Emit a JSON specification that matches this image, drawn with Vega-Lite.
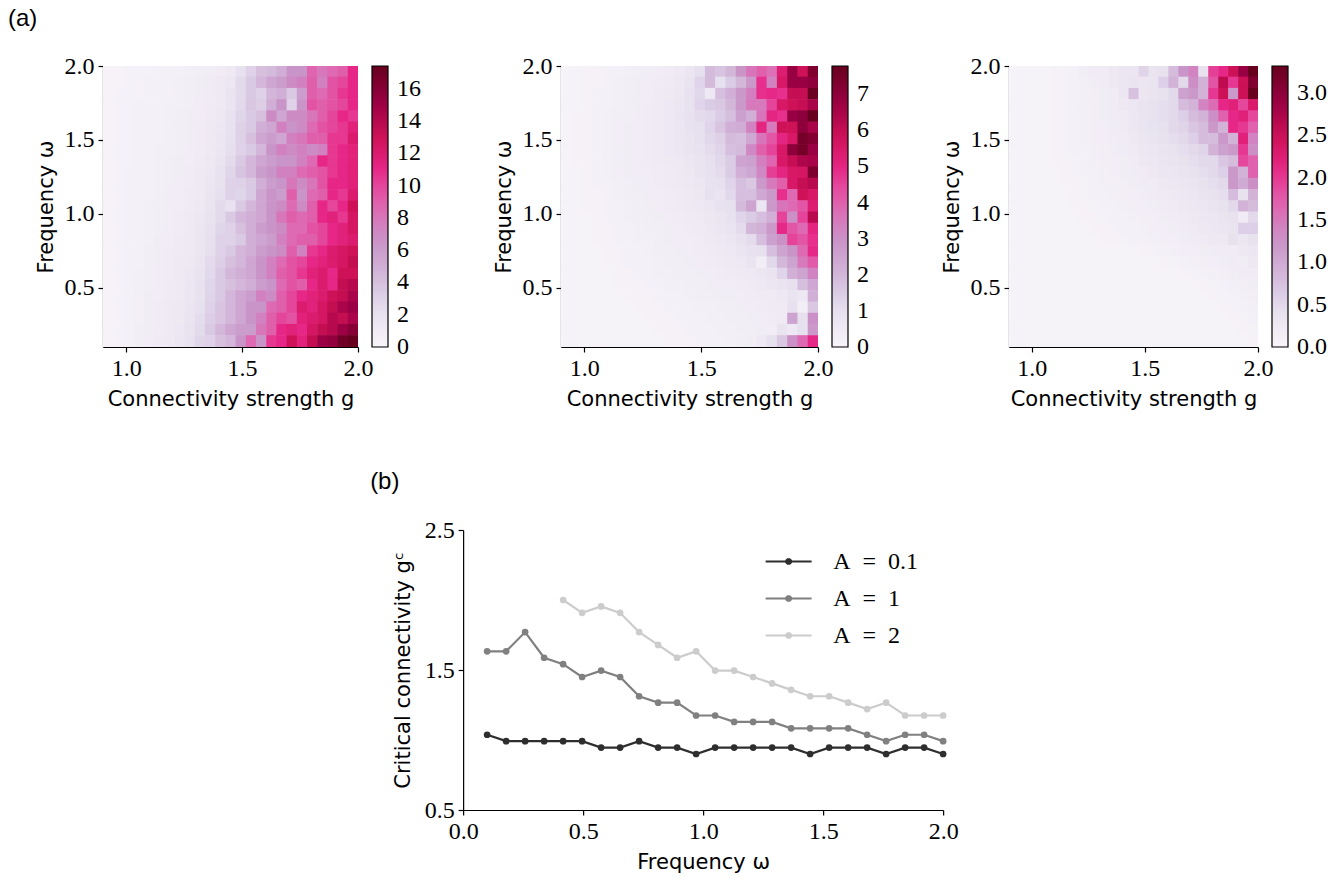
{
"$schema": "https://vega.github.io/schema/vega-lite/v6.json",
"background": "white",
"padding": {"left": 8, "top": 7, "right": 5, "bottom": 5},
"config": {
  "view": {"stroke": null},
  "axis": {"domainColor": "black", "domainWidth": 1.2, "tickColor": "black", "tickWidth": 1.2, "tickSize": 5, "grid": false, "labelFont": "Liberation Serif", "labelFontSize": 24, "labelColor": "black", "labelPadding": 4, "labelFlush": false, "titleFont": "DejaVu Sans", "titleFontSize": 21, "titleFontWeight": "normal", "titleColor": "black", "titlePadding": 8},
  "legend": {"labelFont": "Liberation Serif", "labelFontSize": 24, "labelColor": "black"},
  "title": {"font": "Liberation Sans", "fontSize": 24, "fontWeight": "normal", "color": "black", "anchor": "start", "frame": "bounds"}
},
"datasets": {
  "cols": [
    {"k":1,"g0":0.9,"g1":0.9465},{"k":2,"g0":0.944,"g1":0.9905},{"k":3,"g0":0.988,"g1":1.0345},{"k":4,"g0":1.032,"g1":1.0785},{"k":5,"g0":1.076,"g1":1.1225},
    {"k":6,"g0":1.12,"g1":1.1665},{"k":7,"g0":1.164,"g1":1.2105},{"k":8,"g0":1.208,"g1":1.2545},{"k":9,"g0":1.252,"g1":1.2985},{"k":10,"g0":1.296,"g1":1.3425},
    {"k":11,"g0":1.34,"g1":1.3865},{"k":12,"g0":1.384,"g1":1.4305},{"k":13,"g0":1.428,"g1":1.4745},{"k":14,"g0":1.472,"g1":1.5185},{"k":15,"g0":1.516,"g1":1.5625},
    {"k":16,"g0":1.56,"g1":1.6065},{"k":17,"g0":1.604,"g1":1.6505},{"k":18,"g0":1.648,"g1":1.6945},{"k":19,"g0":1.692,"g1":1.7385},{"k":20,"g0":1.736,"g1":1.7825},
    {"k":21,"g0":1.78,"g1":1.8265},{"k":22,"g0":1.824,"g1":1.8705},{"k":23,"g0":1.868,"g1":1.9145},{"k":24,"g0":1.912,"g1":1.9585},{"k":25,"g0":1.956,"g1":2.0025}
  ],
  "heat": [
    {"p":1,"w0":1.924,"w1":2.004,"v":[0.2,0.2,0.3,0.3,0.3,0.4,0.5,0.5,0.6,0.7,0.8,1.0,1.2,2.0,3.0,4.0,4.3,5.0,6.5,6.5,8.7,8.0,8.5,9.0,11.0]},
    {"p":1,"w0":1.848,"w1":1.928,"v":[0.2,0.2,0.3,0.3,0.4,0.4,0.5,0.6,0.7,0.8,1.0,1.2,1.5,2.5,3.5,4.5,5.5,6.0,7.0,7.5,9.0,7.5,9.5,10.0,11.0]},
    {"p":1,"w0":1.772,"w1":1.852,"v":[0.2,0.3,0.3,0.3,0.4,0.5,0.5,0.6,0.7,0.8,1.0,1.3,1.8,2.5,3.5,3.0,4.5,5.0,3.5,6.0,9.0,8.5,9.5,10.5,11.0]},
    {"p":1,"w0":1.696,"w1":1.776,"v":[0.2,0.3,0.3,0.4,0.4,0.5,0.6,0.6,0.7,0.9,1.0,1.3,1.7,2.6,3.6,3.2,5.0,6.5,3.0,6.5,9.5,9.0,9.5,10.0,11.0]},
    {"p":1,"w0":1.62,"w1":1.7,"v":[0.2,0.3,0.3,0.4,0.4,0.5,0.6,0.7,0.8,0.9,1.1,1.4,2.0,2.8,3.5,4.0,7.0,5.5,7.0,7.0,8.0,9.0,10.0,11.0,10.5]},
    {"p":1,"w0":1.544,"w1":1.624,"v":[0.2,0.3,0.3,0.4,0.5,0.5,0.6,0.7,0.8,1.0,1.2,1.5,2.0,3.0,3.5,5.0,5.5,7.5,6.5,7.0,8.5,9.5,10.0,10.5,11.5]},
    {"p":1,"w0":1.468,"w1":1.548,"v":[0.2,0.3,0.3,0.4,0.5,0.5,0.6,0.7,0.8,1.0,1.2,1.6,2.2,3.0,4.0,5.5,6.0,5.5,7.5,8.0,9.0,9.0,10.5,10.5,12.0]},
    {"p":1,"w0":1.392,"w1":1.472,"v":[0.2,0.3,0.3,0.4,0.5,0.6,0.6,0.7,0.9,1.0,1.3,1.6,2.3,3.0,3.5,4.5,6.5,7.5,7.0,7.5,7.0,7.5,10.5,11.0,11.5]},
    {"p":1,"w0":1.316,"w1":1.396,"v":[0.2,0.3,0.3,0.4,0.5,0.6,0.7,0.8,0.9,1.1,1.4,1.8,2.5,3.5,4.5,5.5,6.0,6.5,6.5,7.5,8.5,11.0,10.5,11.0,11.5]},
    {"p":1,"w0":1.24,"w1":1.32,"v":[0.2,0.3,0.4,0.4,0.5,0.6,0.7,0.8,1.0,1.2,1.5,2.0,2.8,3.8,4.5,6.0,6.5,7.5,7.5,8.5,9.0,9.5,10.5,11.0,11.5]},
    {"p":1,"w0":1.164,"w1":1.244,"v":[0.2,0.3,0.4,0.4,0.5,0.6,0.7,0.9,1.0,1.2,1.6,2.1,3.0,3.0,3.5,5.0,6.0,6.5,8.0,7.0,8.0,9.5,11.0,11.0,11.5]},
    {"p":1,"w0":1.088,"w1":1.168,"v":[0.2,0.3,0.4,0.5,0.5,0.6,0.8,0.9,1.1,1.3,1.7,2.3,3.0,2.8,3.5,5.5,6.5,6.0,9.0,6.5,8.5,9.0,11.0,10.5,12.0]},
    {"p":1,"w0":1.012,"w1":1.092,"v":[0.2,0.3,0.4,0.5,0.6,0.7,0.8,0.9,1.1,1.4,1.8,2.5,2.0,3.5,4.5,5.5,6.5,7.0,8.5,7.0,9.0,11.0,10.0,11.0,13.0]},
    {"p":1,"w0":0.936,"w1":1.016,"v":[0.2,0.3,0.4,0.5,0.6,0.7,0.8,1.0,1.2,1.5,1.9,2.5,3.5,4.5,5.0,5.5,6.5,8.0,9.0,8.5,9.0,11.0,11.5,10.5,12.5]},
    {"p":1,"w0":0.86,"w1":0.94,"v":[0.2,0.3,0.4,0.5,0.6,0.7,0.9,1.0,1.2,1.6,2.0,2.8,3.0,4.0,5.0,6.0,6.5,7.0,8.5,8.5,9.5,10.0,11.0,11.5,12.5]},
    {"p":1,"w0":0.784,"w1":0.864,"v":[0.2,0.3,0.4,0.5,0.6,0.8,0.9,1.1,1.3,1.7,2.2,3.0,3.0,3.5,5.0,5.5,6.0,7.5,8.5,9.0,9.0,10.0,11.0,11.5,12.0]},
    {"p":1,"w0":0.708,"w1":0.788,"v":[0.2,0.3,0.4,0.5,0.7,0.8,1.0,1.1,1.3,1.7,2.3,3.0,3.5,4.5,5.0,6.0,6.5,7.0,9.0,7.5,10.5,11.0,12.0,12.5,13.0]},
    {"p":1,"w0":0.632,"w1":0.712,"v":[0.2,0.3,0.4,0.5,0.7,0.8,1.0,1.2,1.4,1.8,2.5,3.2,4.0,4.5,5.5,6.5,7.5,8.5,9.5,10.0,11.0,11.5,12.0,12.5,13.5]},
    {"p":1,"w0":0.556,"w1":0.636,"v":[0.2,0.3,0.4,0.6,0.7,0.9,1.0,1.2,1.5,1.9,2.6,3.5,4.5,5.0,5.5,6.5,7.5,9.0,9.5,10.5,11.5,12.0,11.0,13.0,13.0]},
    {"p":1,"w0":0.48,"w1":0.56,"v":[0.2,0.3,0.4,0.6,0.7,0.9,1.1,1.3,1.6,2.0,2.8,3.5,4.0,4.5,5.0,6.0,6.5,8.5,9.5,9.0,11.0,12.0,11.0,13.5,14.0]},
    {"p":1,"w0":0.404,"w1":0.484,"v":[0.2,0.3,0.5,0.6,0.8,0.9,1.1,1.3,1.6,2.1,2.9,3.5,4.5,5.5,6.0,7.5,7.0,9.0,10.0,11.0,11.5,12.0,13.0,13.5,14.5]},
    {"p":1,"w0":0.328,"w1":0.408,"v":[0.2,0.3,0.5,0.6,0.8,1.0,1.2,1.4,1.7,2.2,3.0,3.8,4.5,5.5,6.5,6.5,8.5,9.0,10.0,12.0,11.5,12.5,13.5,14.5,15.0]},
    {"p":1,"w0":0.252,"w1":0.332,"v":[0.2,0.3,0.5,0.6,0.8,1.0,1.2,1.4,1.8,2.4,3.2,3.8,4.5,5.5,6.5,7.5,9.0,10.0,9.5,11.5,12.0,12.5,14.0,13.5,14.5]},
    {"p":1,"w0":0.176,"w1":0.256,"v":[0.2,0.3,0.5,0.7,0.8,1.0,1.2,1.5,1.9,2.5,3.5,4.5,5.5,6.0,6.0,8.0,9.0,11.0,11.5,11.0,12.5,13.5,14.0,15.0,16.0]},
    {"p":1,"w0":0.1,"w1":0.18,"v":[0.2,0.3,0.5,0.7,0.9,1.1,1.3,1.6,2.0,2.8,3.0,4.0,4.5,6.5,8.5,6.5,10.5,11.0,13.0,11.5,13.5,15.0,15.5,17.0,17.4]},

    {"p":2,"w0":1.924,"w1":2.004,"v":[0.1,0.1,0.15,0.15,0.2,0.2,0.25,0.3,0.35,0.4,0.45,0.55,0.7,1.0,1.9,1.7,2.0,2.9,3.6,4.0,3.7,5.3,6.8,5.8,7.3]},
    {"p":2,"w0":1.848,"w1":1.928,"v":[0.1,0.1,0.15,0.15,0.2,0.25,0.3,0.35,0.4,0.45,0.5,0.6,0.8,1.3,1.9,1.0,1.5,2.0,2.8,4.8,3.3,5.5,6.8,6.8,7.0]},
    {"p":2,"w0":1.772,"w1":1.852,"v":[0.1,0.1,0.15,0.2,0.2,0.25,0.3,0.35,0.4,0.5,0.55,0.65,0.9,1.2,0.6,1.8,2.2,2.8,3.4,4.8,4.9,4.8,6.0,6.0,7.7]},
    {"p":2,"w0":1.696,"w1":1.776,"v":[0.1,0.1,0.15,0.2,0.2,0.25,0.3,0.35,0.45,0.5,0.6,0.7,0.9,1.3,1.5,1.6,2.0,2.8,3.5,3.5,4.5,5.5,5.8,6.0,6.5]},
    {"p":2,"w0":1.62,"w1":1.7,"v":[0.1,0.15,0.15,0.2,0.25,0.3,0.3,0.4,0.45,0.5,0.6,0.75,0.9,1.1,1.2,1.5,1.8,2.6,2.2,3.6,5.0,4.8,6.8,7.0,7.78]},
    {"p":2,"w0":1.544,"w1":1.624,"v":[0.1,0.15,0.15,0.2,0.25,0.3,0.35,0.4,0.45,0.5,0.6,0.7,0.9,1.0,1.3,1.7,2.2,2.3,3.3,5.0,3.5,5.8,5.8,7.0,6.5]},
    {"p":2,"w0":1.468,"w1":1.548,"v":[0.1,0.15,0.15,0.2,0.25,0.3,0.35,0.4,0.45,0.5,0.6,0.7,0.8,1.0,1.2,1.4,1.9,1.8,2.4,3.6,4.2,5.0,5.5,7.5,7.2]},
    {"p":2,"w0":1.392,"w1":1.472,"v":[0.1,0.15,0.15,0.2,0.25,0.3,0.35,0.4,0.45,0.5,0.6,0.7,0.8,0.9,1.1,1.3,1.8,1.9,3.2,4.0,4.5,5.5,7.0,7.5,6.8]},
    {"p":2,"w0":1.316,"w1":1.396,"v":[0.1,0.15,0.15,0.2,0.25,0.3,0.35,0.4,0.45,0.5,0.55,0.6,0.7,0.8,1.0,1.2,1.5,2.5,2.6,3.4,3.9,5.5,6.0,6.4,6.5]},
    {"p":2,"w0":1.24,"w1":1.32,"v":[0.1,0.1,0.15,0.2,0.25,0.3,0.35,0.4,0.4,0.45,0.5,0.55,0.65,0.8,0.95,1.1,1.5,2.2,2.4,3.2,4.6,5.0,5.5,5.6,7.3]},
    {"p":2,"w0":1.164,"w1":1.244,"v":[0.1,0.1,0.15,0.2,0.2,0.25,0.3,0.35,0.4,0.45,0.5,0.55,0.6,0.7,0.9,1.0,1.3,1.8,1.6,2.8,3.5,4.0,5.5,6.0,6.2]},
    {"p":2,"w0":1.088,"w1":1.168,"v":[0.1,0.1,0.15,0.15,0.2,0.25,0.3,0.3,0.35,0.4,0.45,0.5,0.55,0.65,1.0,0.8,1.2,1.8,1.8,2.4,2.8,4.8,3.8,5.8,5.5]},
    {"p":2,"w0":1.012,"w1":1.092,"v":[0.1,0.1,0.15,0.15,0.2,0.2,0.25,0.3,0.35,0.4,0.45,0.5,0.55,0.6,0.7,0.9,1.0,1.9,2.5,0.7,2.8,3.6,3.8,4.2,5.3]},
    {"p":2,"w0":0.936,"w1":1.016,"v":[0.1,0.1,0.1,0.15,0.2,0.2,0.25,0.3,0.3,0.35,0.4,0.45,0.5,0.55,0.65,0.75,0.9,1.3,1.5,1.8,2.2,4.5,3.0,4.5,6.2]},
    {"p":2,"w0":0.86,"w1":0.94,"v":[0.1,0.1,0.1,0.15,0.15,0.2,0.2,0.25,0.3,0.3,0.35,0.4,0.45,0.5,0.6,0.7,0.8,1.1,2.0,2.2,2.8,4.9,4.2,3.8,5.0]},
    {"p":2,"w0":0.784,"w1":0.864,"v":[0.1,0.1,0.1,0.15,0.15,0.2,0.2,0.25,0.25,0.3,0.35,0.4,0.4,0.45,0.55,0.6,0.7,0.9,1.1,1.8,2.6,3.0,4.5,4.2,4.8]},
    {"p":2,"w0":0.708,"w1":0.788,"v":[0.1,0.1,0.1,0.1,0.15,0.15,0.2,0.2,0.25,0.3,0.3,0.35,0.4,0.45,0.5,0.55,0.6,0.75,0.9,1.0,1.8,2.5,2.9,3.8,4.9]},
    {"p":2,"w0":0.632,"w1":0.712,"v":[0.1,0.1,0.1,0.1,0.15,0.15,0.2,0.2,0.2,0.25,0.3,0.3,0.35,0.4,0.45,0.5,0.55,0.6,0.8,0.3,1.2,2.0,2.5,3.5,4.1]},
    {"p":2,"w0":0.556,"w1":0.636,"v":[0.1,0.1,0.1,0.1,0.1,0.15,0.15,0.2,0.2,0.25,0.25,0.3,0.3,0.35,0.4,0.45,0.5,0.55,0.6,0.7,0.8,1.3,2.2,2.5,3.3]},
    {"p":2,"w0":0.48,"w1":0.56,"v":[0.1,0.1,0.1,0.1,0.1,0.15,0.15,0.15,0.2,0.2,0.25,0.25,0.3,0.3,0.35,0.4,0.4,0.45,0.5,0.6,0.7,0.8,1.0,1.8,2.4]},
    {"p":2,"w0":0.404,"w1":0.484,"v":[0.1,0.1,0.1,0.1,0.1,0.1,0.15,0.15,0.15,0.2,0.2,0.2,0.25,0.3,0.3,0.35,0.35,0.4,0.45,0.5,0.5,0.6,0.8,0.6,2.2]},
    {"p":2,"w0":0.328,"w1":0.408,"v":[0.1,0.1,0.1,0.1,0.1,0.1,0.1,0.15,0.15,0.15,0.2,0.2,0.2,0.25,0.25,0.3,0.3,0.35,0.4,0.45,0.5,0.5,0.9,0.3,1.6]},
    {"p":2,"w0":0.252,"w1":0.332,"v":[0.1,0.1,0.1,0.1,0.1,0.1,0.1,0.1,0.15,0.15,0.15,0.2,0.2,0.2,0.25,0.25,0.3,0.3,0.35,0.4,0.45,0.5,2.5,1.0,3.0]},
    {"p":2,"w0":0.176,"w1":0.256,"v":[0.1,0.1,0.1,0.1,0.1,0.1,0.1,0.1,0.1,0.15,0.15,0.15,0.2,0.2,0.2,0.25,0.25,0.3,0.3,0.35,0.4,0.8,0.6,1.0,2.8]},
    {"p":2,"w0":0.1,"w1":0.18,"v":[0.1,0.1,0.1,0.1,0.1,0.1,0.1,0.1,0.1,0.1,0.15,0.15,0.15,0.2,0.2,0.2,0.25,0.3,0.35,0.6,1.0,1.6,3.0,3.8,4.9]},

    {"p":3,"w0":1.924,"w1":2.004,"v":[0.05,0.05,0.05,0.05,0.06,0.07,0.08,0.15,0.2,0.2,0.25,0.3,0.3,0.55,0.35,0.4,0.8,1.25,1.4,0.4,1.95,2.1,2.5,2.9,3.32]},
    {"p":3,"w0":1.848,"w1":1.928,"v":[0.05,0.05,0.05,0.05,0.06,0.07,0.08,0.1,0.15,0.2,0.25,0.3,0.35,0.3,0.35,0.6,0.9,0.5,1.3,0.9,1.8,2.6,2.0,2.5,3.1]},
    {"p":3,"w0":1.772,"w1":1.852,"v":[0.05,0.05,0.05,0.05,0.06,0.07,0.08,0.1,0.12,0.15,0.2,0.3,0.75,0.3,0.35,0.4,0.5,1.1,1.2,0.9,2.0,2.5,1.2,2.5,3.3]},
    {"p":3,"w0":1.696,"w1":1.776,"v":[0.05,0.05,0.05,0.05,0.06,0.07,0.08,0.1,0.12,0.15,0.2,0.25,0.3,0.35,0.4,0.45,0.5,0.8,0.9,1.4,1.6,2.1,2.2,1.9,2.3]},
    {"p":3,"w0":1.62,"w1":1.7,"v":[0.05,0.05,0.05,0.05,0.06,0.07,0.08,0.1,0.12,0.15,0.18,0.22,0.28,0.35,0.4,0.45,0.5,0.6,0.8,0.9,1.3,1.7,2.1,2.2,1.9]},
    {"p":3,"w0":1.544,"w1":1.624,"v":[0.05,0.05,0.05,0.05,0.06,0.07,0.08,0.1,0.12,0.14,0.18,0.22,0.28,0.32,0.38,0.42,0.5,0.55,0.7,0.8,1.2,0.9,2.1,2.0,1.7]},
    {"p":3,"w0":1.468,"w1":1.548,"v":[0.05,0.05,0.05,0.05,0.06,0.07,0.08,0.1,0.12,0.14,0.16,0.2,0.25,0.3,0.35,0.4,0.45,0.5,0.6,0.8,0.8,1.2,0.9,2.2,1.4]},
    {"p":3,"w0":1.392,"w1":1.472,"v":[0.05,0.05,0.05,0.05,0.06,0.07,0.08,0.09,0.1,0.12,0.15,0.18,0.22,0.28,0.3,0.35,0.4,0.45,0.5,0.55,0.9,1.1,1.2,2.0,1.3]},
    {"p":3,"w0":1.316,"w1":1.396,"v":[0.05,0.05,0.05,0.05,0.06,0.06,0.07,0.08,0.1,0.12,0.14,0.16,0.2,0.25,0.28,0.32,0.35,0.4,0.45,0.5,0.5,0.7,0.8,1.9,1.7]},
    {"p":3,"w0":1.24,"w1":1.32,"v":[0.05,0.05,0.05,0.05,0.05,0.06,0.07,0.08,0.09,0.1,0.12,0.15,0.18,0.2,0.25,0.3,0.3,0.35,0.4,0.45,0.5,0.6,1.2,0.9,1.7]},
    {"p":3,"w0":1.164,"w1":1.244,"v":[0.05,0.05,0.05,0.05,0.05,0.06,0.06,0.07,0.08,0.1,0.11,0.13,0.15,0.18,0.2,0.25,0.28,0.3,0.35,0.4,0.45,0.5,1.2,1.0,1.3]},
    {"p":3,"w0":1.088,"w1":1.168,"v":[0.05,0.05,0.05,0.05,0.05,0.05,0.06,0.07,0.08,0.09,0.1,0.12,0.14,0.16,0.2,0.22,0.25,0.28,0.3,0.35,0.4,0.45,0.8,0.4,0.9]},
    {"p":3,"w0":1.012,"w1":1.092,"v":[0.05,0.05,0.05,0.05,0.05,0.05,0.06,0.06,0.07,0.08,0.09,0.1,0.12,0.14,0.16,0.2,0.22,0.25,0.28,0.3,0.35,0.4,0.5,0.9,0.8]},
    {"p":3,"w0":0.936,"w1":1.016,"v":[0.05,0.05,0.05,0.05,0.05,0.05,0.05,0.06,0.06,0.07,0.08,0.09,0.1,0.12,0.14,0.16,0.2,0.22,0.25,0.28,0.3,0.35,0.4,0.2,0.5]},
    {"p":3,"w0":0.86,"w1":0.94,"v":[0.05,0.05,0.05,0.05,0.05,0.05,0.05,0.05,0.06,0.06,0.07,0.08,0.09,0.1,0.12,0.14,0.16,0.2,0.22,0.25,0.28,0.3,0.35,0.6,0.6]},
    {"p":3,"w0":0.784,"w1":0.864,"v":[0.05,0.05,0.05,0.05,0.05,0.05,0.05,0.05,0.05,0.06,0.06,0.07,0.08,0.09,0.1,0.12,0.14,0.16,0.2,0.22,0.25,0.25,0.4,0.3,0.4]},
    {"p":3,"w0":0.708,"w1":0.788,"v":[0.05,0.05,0.05,0.05,0.05,0.05,0.05,0.05,0.05,0.05,0.05,0.05,0.05,0.06,0.07,0.08,0.1,0.12,0.14,0.16,0.18,0.2,0.2,0.25,0.3]},
    {"p":3,"w0":0.632,"w1":0.712,"v":[0.05,0.05,0.05,0.05,0.05,0.05,0.05,0.05,0.05,0.05,0.05,0.05,0.05,0.05,0.05,0.06,0.07,0.08,0.1,0.12,0.14,0.15,0.2,0.15,0.25]},
    {"p":3,"w0":0.556,"w1":0.636,"v":[0.05,0.05,0.05,0.05,0.05,0.05,0.05,0.05,0.05,0.05,0.05,0.05,0.05,0.05,0.05,0.05,0.05,0.06,0.07,0.08,0.1,0.12,0.15,0.2,0.2]},
    {"p":3,"w0":0.48,"w1":0.56,"v":[0.05,0.05,0.05,0.05,0.05,0.05,0.05,0.05,0.05,0.05,0.05,0.05,0.05,0.05,0.05,0.05,0.05,0.05,0.05,0.06,0.07,0.08,0.1,0.12,0.15]},
    {"p":3,"w0":0.404,"w1":0.484,"v":[0.05,0.05,0.05,0.05,0.05,0.05,0.05,0.05,0.05,0.05,0.05,0.05,0.05,0.05,0.05,0.05,0.05,0.05,0.05,0.05,0.06,0.07,0.08,0.1,0.12]},
    {"p":3,"w0":0.328,"w1":0.408,"v":[0.05,0.05,0.05,0.05,0.05,0.05,0.05,0.05,0.05,0.05,0.05,0.05,0.05,0.05,0.05,0.05,0.05,0.05,0.05,0.05,0.05,0.06,0.07,0.08,0.1]},
    {"p":3,"w0":0.252,"w1":0.332,"v":[0.05,0.05,0.05,0.05,0.05,0.05,0.05,0.05,0.05,0.05,0.05,0.05,0.05,0.05,0.05,0.05,0.05,0.05,0.05,0.05,0.05,0.05,0.06,0.07,0.08]},
    {"p":3,"w0":0.176,"w1":0.256,"v":[0.05,0.05,0.05,0.05,0.05,0.05,0.05,0.05,0.05,0.05,0.05,0.05,0.05,0.05,0.05,0.05,0.05,0.05,0.05,0.05,0.05,0.05,0.05,0.06,0.07]},
    {"p":3,"w0":0.1,"w1":0.18,"v":[0.05,0.05,0.05,0.05,0.05,0.05,0.05,0.05,0.05,0.05,0.05,0.05,0.05,0.05,0.05,0.05,0.05,0.05,0.05,0.05,0.05,0.05,0.05,0.05,0.06]}
  ],
  "lines": [
    {"A":"A = 2","w":[0.4167,0.4958,0.575,0.6542,0.7333,0.8125,0.8917,0.9708,1.05,1.1292,1.2083,1.2875,1.3667,1.4458,1.525,1.6042,1.6833,1.7625,1.8417,1.9208,2.0],
     "gc":[2.0,1.9083,1.9542,1.9083,1.7708,1.6792,1.5875,1.6333,1.4958,1.4958,1.45,1.4042,1.3583,1.3125,1.3125,1.2667,1.2208,1.2667,1.175,1.175,1.175]},
    {"A":"A = 1","w":[0.1,0.1792,0.2583,0.3375,0.4167,0.4958,0.575,0.6542,0.7333,0.8125,0.8917,0.9708,1.05,1.1292,1.2083,1.2875,1.3667,1.4458,1.525,1.6042,1.6833,1.7625,1.8417,1.9208,2.0],
     "gc":[1.6333,1.6333,1.7708,1.5875,1.5417,1.45,1.4958,1.45,1.3125,1.2667,1.2667,1.175,1.175,1.1292,1.1292,1.1292,1.0833,1.0833,1.0833,1.0833,1.0375,0.9917,1.0375,1.0375,0.9917]},
    {"A":"A = 0.1","w":[0.1,0.1792,0.2583,0.3375,0.4167,0.4958,0.575,0.6542,0.7333,0.8125,0.8917,0.9708,1.05,1.1292,1.2083,1.2875,1.3667,1.4458,1.525,1.6042,1.6833,1.7625,1.8417,1.9208,2.0],
     "gc":[1.0375,0.9917,0.9917,0.9917,0.9917,0.9917,0.9458,0.9458,0.9917,0.9458,0.9458,0.9,0.9458,0.9458,0.9458,0.9458,0.9458,0.9,0.9458,0.9458,0.9458,0.9,0.9458,0.9458,0.9]}
  ]
},
"vconcat": [
  {
    "title": {"text": "(a)", "dx": -27, "offset": 23},
    "spacing": 72,
    "resolve": {"scale": {"color": "independent"}, "legend": {"color": "independent"}},
    "hconcat": [
      {
        "width": 255, "height": 281,
        "data": {"name": "heat"},
        "transform": [
          {"filter": "datum.p === 1"},
          {"flatten": ["v"]},
          {"window": [{"op": "row_number", "as": "k"}], "groupby": ["w0"]},
          {"lookup": "k", "from": {"data": {"name": "cols"}, "key": "k", "fields": ["g0", "g1"]}}
        ],
        "mark": {"type": "rect", "clip": true},
        "encoding": {
          "x": {"field": "g0", "type": "quantitative", "scale": {"domain": [0.9, 2.0], "nice": false, "zero": false}, "axis": {"values": [1.0, 1.5, 2.0], "format": ".1f", "title": "Connectivity strength g"}},
          "x2": {"field": "g1"},
          "y": {"field": "w0", "type": "quantitative", "scale": {"domain": [0.1, 2.0], "nice": false, "zero": false}, "axis": {"values": [0.5, 1.0, 1.5, 2.0], "format": ".1f", "title": "Frequency ω"}},
          "y2": {"field": "w1"},
          "color": {"field": "v", "type": "quantitative", "scale": {"type": "linear", "domain": [0, 2.175, 4.35, 6.525, 8.7, 10.875, 13.05, 15.225, 17.4], "range": ["#f7f4f9", "#e7e1ef", "#d4b9da", "#c994c7", "#df65b0", "#e7298a", "#ce1256", "#980043", "#67001f"]},
            "legend": {"type": "gradient", "title": null, "values": [0, 2, 4, 6, 8, 10, 12, 14, 16], "gradientLength": 281, "gradientThickness": 16, "gradientStrokeColor": "black", "gradientStrokeWidth": 1.2, "offset": 14, "labelOverlap": false, "labelOffset": 9, "encode": {"labels": {"update": {"baseline": {"value": "middle"}}}}}}
        }
      },
      {
        "width": 257, "height": 281,
        "data": {"name": "heat"},
        "transform": [
          {"filter": "datum.p === 2"},
          {"flatten": ["v"]},
          {"window": [{"op": "row_number", "as": "k"}], "groupby": ["w0"]},
          {"lookup": "k", "from": {"data": {"name": "cols"}, "key": "k", "fields": ["g0", "g1"]}}
        ],
        "mark": {"type": "rect", "clip": true},
        "encoding": {
          "x": {"field": "g0", "type": "quantitative", "scale": {"domain": [0.9, 2.0], "nice": false, "zero": false}, "axis": {"values": [1.0, 1.5, 2.0], "format": ".1f", "title": "Connectivity strength g"}},
          "x2": {"field": "g1"},
          "y": {"field": "w0", "type": "quantitative", "scale": {"domain": [0.1, 2.0], "nice": false, "zero": false}, "axis": {"values": [0.5, 1.0, 1.5, 2.0], "format": ".1f", "title": "Frequency ω"}},
          "y2": {"field": "w1"},
          "color": {"field": "v", "type": "quantitative", "scale": {"type": "linear", "domain": [0, 0.9725, 1.945, 2.9175, 3.89, 4.8625, 5.835, 6.8075, 7.78], "range": ["#f7f4f9", "#e7e1ef", "#d4b9da", "#c994c7", "#df65b0", "#e7298a", "#ce1256", "#980043", "#67001f"]},
            "legend": {"type": "gradient", "title": null, "values": [0, 1, 2, 3, 4, 5, 6, 7], "gradientLength": 281, "gradientThickness": 16, "gradientStrokeColor": "black", "gradientStrokeWidth": 1.2, "offset": 14, "labelOverlap": false, "labelOffset": 9, "encode": {"labels": {"update": {"baseline": {"value": "middle"}}}}}}
        }
      },
      {
        "width": 249, "height": 281,
        "data": {"name": "heat"},
        "transform": [
          {"filter": "datum.p === 3"},
          {"flatten": ["v"]},
          {"window": [{"op": "row_number", "as": "k"}], "groupby": ["w0"]},
          {"lookup": "k", "from": {"data": {"name": "cols"}, "key": "k", "fields": ["g0", "g1"]}}
        ],
        "mark": {"type": "rect", "clip": true},
        "encoding": {
          "x": {"field": "g0", "type": "quantitative", "scale": {"domain": [0.9, 2.0], "nice": false, "zero": false}, "axis": {"values": [1.0, 1.5, 2.0], "format": ".1f", "title": "Connectivity strength g"}},
          "x2": {"field": "g1"},
          "y": {"field": "w0", "type": "quantitative", "scale": {"domain": [0.1, 2.0], "nice": false, "zero": false}, "axis": {"values": [0.5, 1.0, 1.5, 2.0], "format": ".1f", "title": "Frequency ω"}},
          "y2": {"field": "w1"},
          "color": {"field": "v", "type": "quantitative", "scale": {"type": "linear", "domain": [0, 0.415, 0.83, 1.245, 1.66, 2.075, 2.49, 2.905, 3.32], "range": ["#f7f4f9", "#e7e1ef", "#d4b9da", "#c994c7", "#df65b0", "#e7298a", "#ce1256", "#980043", "#67001f"]},
            "legend": {"type": "gradient", "title": null, "values": [0, 0.5, 1, 1.5, 2, 2.5, 3], "format": ".1f", "gradientLength": 281, "gradientThickness": 16, "gradientStrokeColor": "black", "gradientStrokeWidth": 1.2, "offset": 14, "labelOverlap": false, "labelOffset": 9, "encode": {"labels": {"update": {"baseline": {"value": "middle"}}}}}}
        }
      }
    ]
  },
  {
    "width": 480, "height": 280,
    "title": {"text": "(b)", "dx": -22, "offset": 24},
    "data": {"name": "lines"},
    "transform": [{"flatten": ["w", "gc"]}],
    "layer": [
      {
        "mark": {"type": "line", "strokeWidth": 2.2, "point": {"filled": true, "size": 45}},
        "encoding": {
          "x": {"field": "w", "type": "quantitative", "scale": {"domain": [0, 2], "nice": false}, "axis": {"values": [0, 0.5, 1, 1.5, 2], "format": ".1f", "title": "Frequency ω"}},
          "y": {"field": "gc", "type": "quantitative", "scale": {"domain": [0.5, 2.5], "nice": false, "zero": false}, "axis": {"values": [0.5, 1.5, 2.5], "format": ".1f", "title": "Critical connectivity gᶜ", "titlePadding": 11}},
          "color": {"field": "A", "type": "nominal", "scale": {"domain": ["A = 0.1", "A = 1", "A = 2"], "range": ["#2e2e2e", "#808080", "#cccccc"]},
            "legend": {"title": "AA", "titleColor": "transparent", "titleFontSize": 10, "titleOrient": "right", "titlePadding": 3, "orient": "top-right", "offset": 7,
              "symbolType": "M-1,0L1,0M0.097,0.04L0.04,0.097L-0.04,0.097L-0.097,0.04L-0.097,-0.04L-0.04,-0.097L0.04,-0.097L0.097,-0.04ZM0.046,0.019L0.019,0.046L-0.019,0.046L-0.046,0.019L-0.046,-0.019L-0.019,-0.046L0.019,-0.046L0.046,-0.019Z",
              "symbolSize": 2116, "symbolStrokeWidth": 2.2, "labelFontSize": 24, "rowPadding": 0, "labelOffset": 20,
              "labelExpr": "replace(datum.label, ' = ', '\u2002=\u2002')"}},
          "order": {"field": "w", "type": "quantitative"}
        }
      },
      {
        "mark": {"type": "point", "opacity": 0},
        "encoding": {
          "x": {"field": "w", "type": "quantitative"},
          "y": {"field": "gc", "type": "quantitative", "axis": {"orient": "right", "title": null, "domain": false, "ticks": false, "labelColor": "transparent", "labelPadding": 0, "labelFontSize": 19, "values": [0.5, 1.5, 2.5], "format": ".1f"}}
        }
      }
    ],
    "resolve": {"axis": {"y": "independent"}}
  }
],
"spacing": 61,
"center": true,
"resolve": {"scale": {"color": "independent"}, "legend": {"color": "independent"}}
}
